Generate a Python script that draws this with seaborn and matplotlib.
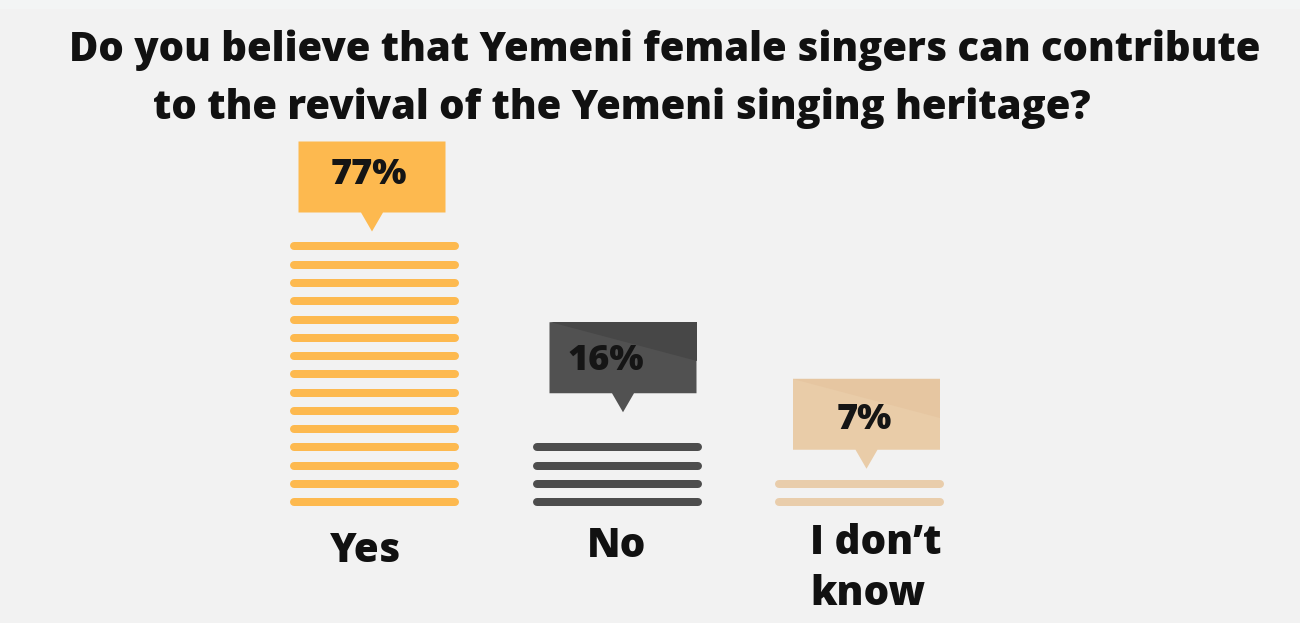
import numpy as np
import pandas as pd
import matplotlib
matplotlib.use("Agg")
import matplotlib.pyplot as plt
from matplotlib.patches import Polygon, Rectangle
import seaborn as sns

# ---- data ----
categories = ["Yes", "No", "I don\u2019t\nknow"]
values = [77, 16, 7]
stripes = [15, 4, 2]
value_labels = ["77%", "16%", "7%"]
title_lines = ["Do you believe that Yemeni female singers can contribute",
               "to the revival of the Yemeni singing heritage?"]

# ---- style ----
bar_colors = ["#fdb94f", "#4d4d4d", "#e9cdab"]
box_colors = ["#fdb94f", "#515151", "#e9cca8"]
box_shade = ["#fdb94f", "#474747", "#e6c6a1"]
BG = "#f2f2f2"
INK = "#111111"

sns.set_theme(style="white", rc={"axes.facecolor": BG, "figure.facecolor": BG})
plt.rcParams["font.family"] = ["Open Sans", "DejaVu Sans"]

W, H = 1300, 623
fig = plt.figure(figsize=(W / 100, H / 100), dpi=100)
ax = fig.add_axes([0, 0, 1, 1])

# pixel geometry -> data coords (x: category index, y: stripe index)
XC0, XSTEP = 374.5, 242.5
Y0, YSTEP = 502.0, 18.25

def dx(px):
    return px / XSTEP

def dy(px):
    return px / YSTEP

fig.patches.append(Rectangle((0, 1 - 9 / H), 1, 9 / H, transform=fig.transFigure,
                             facecolor="#f3f5f5", edgecolor="none", zorder=0))

# ---- stripes via seaborn ----
lw_px = 8
half = dx((169 - lw_px) / 2)
rows = []
for i, (cat, n) in enumerate(zip(categories, stripes)):
    for k in range(n):
        for side in (-1, 1):
            rows.append({"cat": cat, "x": i + side * half, "y": k, "unit": f"{i}-{k}"})
df = pd.DataFrame(rows)
sns.lineplot(data=df, x="x", y="y", hue="cat", units="unit", estimator=None, sort=False,
             palette=dict(zip(categories, bar_colors)), linewidth=lw_px * 0.72,
             solid_capstyle="round", legend=False, ax=ax)
ax.set_xlim(-XC0 / XSTEP, (W - XC0) / XSTEP)
ax.set_ylim(-(H - Y0) / YSTEP, Y0 / YSTEP)
ax.axis("off")

# ---- callouts ----
tip_gap_px = [15, 35, 15]
box_dx_px = [-2.5, 6.0, 7.0]
text_dx_px = [-3, -17, -2]
text_dy_px = [2, -3, -6]
box_w, box_h, tri_h, tri_hw = 147, 71, 19, 11
for i, n in enumerate(stripes):
    cx = i + dx(box_dx_px[i])
    tip_y = (n - 1) + dy(tip_gap_px[i])
    base_y = tip_y + dy(tri_h)
    top_y = base_y + dy(box_h)
    l, r = cx - dx(box_w / 2), cx + dx(box_w / 2)
    ax.add_patch(Polygon([(l, base_y), (cx - dx(tri_hw), base_y), (cx, tip_y),
                          (cx + dx(tri_hw), base_y), (r, base_y), (r, top_y), (l, top_y)],
                         closed=True, facecolor=box_colors[i], edgecolor="none", zorder=3))
    if box_shade[i] != box_colors[i]:
        ax.add_patch(Polygon([(l, top_y), (r, top_y), (r, top_y - dy(box_h * 0.55))],
                             closed=True, facecolor=box_shade[i], edgecolor="none", zorder=3))
    ax.text(cx + dx(text_dx_px[i]), (base_y + top_y) / 2 + dy(text_dy_px[i]), value_labels[i],
            ha="center", va="center", fontsize=26, fontweight=800, color="#151515", zorder=4)

# ---- category labels (one text per line) ----
lab_x = [365.5, 616.5, 810]
lab_ha = ["center", "center", "left"]
lab_base = [562, 557, 554]
line_gap = 51
for i, cat in enumerate(categories):
    for j, line in enumerate(cat.split("\n")):
        fig.text(lab_x[i] / W, 1 - (lab_base[i] + j * line_gap) / H, line, ha=lab_ha[i],
                 va="baseline", fontsize=29, fontweight=800, color=INK)

# ---- title ----
fig.text(69 / W, 1 - 61 / H, title_lines[0], ha="left", va="baseline",
         fontsize=28.8, fontweight=800, color=INK)
fig.text(153 / W, 1 - 119 / H, title_lines[1], ha="left", va="baseline",
         fontsize=28.8, fontweight=800, color=INK)

fig.savefig("out.png", dpi=100, facecolor=BG)
